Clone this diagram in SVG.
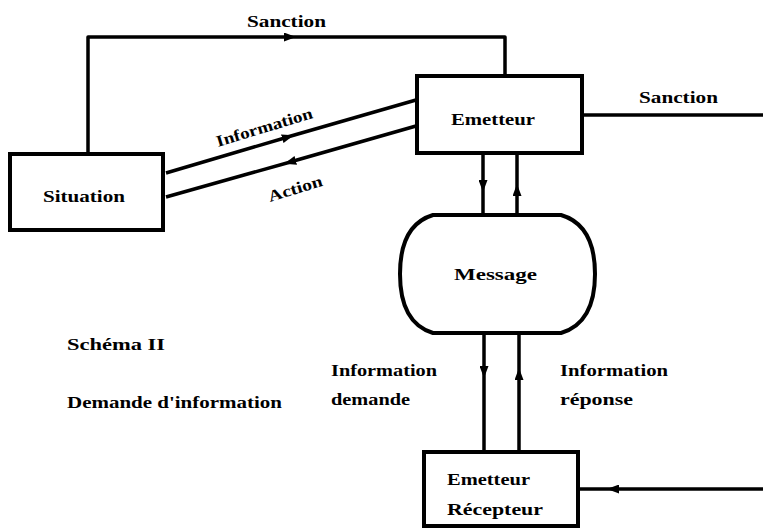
<svg xmlns="http://www.w3.org/2000/svg" width="763" height="530" viewBox="0 0 763 530">
  <style>
    .box { fill: #fff; stroke: #000; stroke-width: 4; }
    .wire { fill: none; stroke: #000; stroke-width: 3.5; stroke-linejoin: round; }
    .lbl { font-family: "Liberation Serif", "Times New Roman", serif; font-weight: bold; font-size: 16px; fill: #000; }
  </style>
  <defs>
    <marker id="arr" viewBox="0 0 12 9" refX="6" refY="4.5" markerWidth="12" markerHeight="9" markerUnits="userSpaceOnUse" orient="auto">
      <path d="M0,0 L12,4.5 L0,9 Z" fill="#000"/>
    </marker>
  </defs>

  <!-- connectors -->
  <g id="connectors">
    <!-- Sanction loop from Situation to Emetteur -->
    <path class="wire" d="M88,154 V37 H290" marker-end="url(#arr)"/>
    <path class="wire" d="M285,37 H505 V76"/>
    <!-- Information: Situation -> Emetteur -->
    <path class="wire" d="M166,173 L288,137" marker-end="url(#arr)"/>
    <path class="wire" d="M284,138 L416,100"/>
    <!-- Action: Emetteur -> Situation -->
    <path class="wire" d="M416,126 L290,162" marker-end="url(#arr)"/>
    <path class="wire" d="M294,161 L166,197"/>
    <!-- Sanction outgoing -->
    <path class="wire" d="M582,115 H763"/>
    <!-- Emetteur <-> Message -->
    <path class="wire" d="M483,153 V186" marker-end="url(#arr)"/>
    <path class="wire" d="M483,182 V215"/>
    <path class="wire" d="M517,215 V190" marker-end="url(#arr)"/>
    <path class="wire" d="M517,194 V153"/>
    <!-- Message <-> Emetteur Récepteur -->
    <path class="wire" d="M484,333 V372" marker-end="url(#arr)"/>
    <path class="wire" d="M484,368 V452"/>
    <path class="wire" d="M519,452 V374" marker-end="url(#arr)"/>
    <path class="wire" d="M519,378 V333"/>
    <!-- incoming feedback -->
    <path class="wire" d="M763,489 H613" marker-end="url(#arr)"/>
    <path class="wire" d="M617,489 H578"/>
  </g>

  <g id="situation">
    <rect class="box" x="10" y="154" width="153" height="76"/>
    <text class="lbl" x="43" y="202" textLength="82" lengthAdjust="spacingAndGlyphs">Situation</text>
  </g>

  <g id="emetteur">
    <rect class="box" x="417" y="76" width="165" height="77"/>
    <text class="lbl" x="451" y="125" textLength="84" lengthAdjust="spacingAndGlyphs">Emetteur</text>
  </g>

  <g id="message">
    <path class="box" d="M433,215 H561 Q595,225 595,274 Q595,323 561,333 H433 Q400,323 400,274 Q400,225 433,215 Z"/>
    <text class="lbl" x="454" y="280" textLength="83" lengthAdjust="spacingAndGlyphs">Message</text>
  </g>

  <g id="emetteur-recepteur">
    <rect class="box" x="424" y="452" width="154" height="74"/>
    <text class="lbl" x="447" y="485" textLength="83" lengthAdjust="spacingAndGlyphs">Emetteur</text>
    <text class="lbl" x="447" y="515" textLength="96" lengthAdjust="spacingAndGlyphs">Récepteur</text>
  </g>

  <!-- connector labels -->
  <g id="labels">
    <text class="lbl" x="247" y="27" textLength="79" lengthAdjust="spacingAndGlyphs">Sanction</text>
    <text class="lbl" x="639" y="103" textLength="79" lengthAdjust="spacingAndGlyphs">Sanction</text>
    <text class="lbl" transform="translate(218,147) rotate(-17)" textLength="100" lengthAdjust="spacingAndGlyphs">Information</text>
    <text class="lbl" transform="translate(270,202) rotate(-17)" textLength="56" lengthAdjust="spacingAndGlyphs">Action</text>
    <text class="lbl" x="331" y="376" textLength="106" lengthAdjust="spacingAndGlyphs">Information</text>
    <text class="lbl" x="331" y="405" textLength="79" lengthAdjust="spacingAndGlyphs">demande</text>
    <text class="lbl" x="560" y="376" textLength="108" lengthAdjust="spacingAndGlyphs">Information</text>
    <text class="lbl" x="560" y="405" textLength="73" lengthAdjust="spacingAndGlyphs">réponse</text>
    <text class="lbl" x="67" y="350" textLength="98" lengthAdjust="spacingAndGlyphs">Schéma  II</text>
    <text class="lbl" x="67" y="408" textLength="215" lengthAdjust="spacingAndGlyphs">Demande d'information</text>
  </g>
</svg>
